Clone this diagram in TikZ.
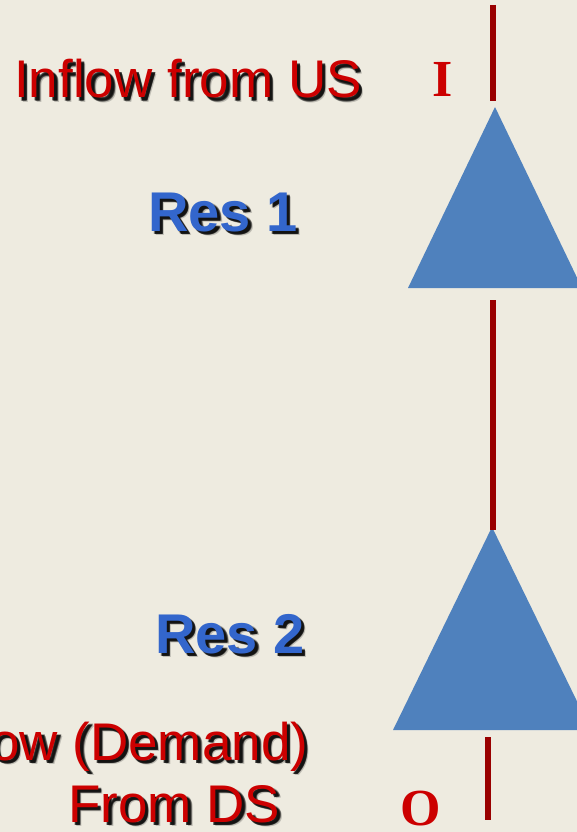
\documentclass[tikz,border=0pt]{standalone}
\usepackage{fontspec}
\setmainfont{Liberation Sans}
\newfontfamily\timesfam{Liberation Serif}
\definecolor{paper}{HTML}{EEEBE0}
\definecolor{resblue}{HTML}{4F81BD}
\definecolor{labelblue}{HTML}{3366CC}
\definecolor{flowred}{HTML}{CC0000}
\definecolor{pipered}{HTML}{990000}
\tikzset{
  big/.style={font=\fontsize{53}{60}\selectfont, inner sep=0pt},
  bigbold/.style={font=\fontsize{56}{62}\selectfont\bfseries, inner sep=0pt},
  letter/.style={font=\fontsize{52}{60}\selectfont\timesfam\bfseries, inner sep=0pt, text=flowred},
  reservoir/.style={fill=resblue, draw=none},
  pipe/.style={draw=pipered, line width=6.5pt},
}
% text with a soft black drop shadow
\newcommand\shadowlabel[5]{% name, style, colour, anchor-position, text
  \foreach \dx/\dy/\op in {4.5/4.5/0.2, 3.5/3.5/0.45, 3/3/0.6, 2.5/3.5/0.3, 3.5/2.5/0.3}
    \node[#2, text=black, opacity=\op, anchor=base west] at ($(#4)+(\dx,\dy)$) {#5};
  \node[#2, text=#3, anchor=base west] (#1) at (#4) {#5};
}
\usetikzlibrary{calc}
\begin{document}
\begin{tikzpicture}[x=1pt, y=-1pt]
  \fill[paper] (0,0) rectangle (577,832);
  \useasboundingbox (0,0) rectangle (577,832);
  \clip (0,0) rectangle (577,832);

  % reservoirs
  \coordinate (r1top) at (495,107);
  \coordinate (r1l) at (408,288);
  \coordinate (r1r) at (582,288);
  \coordinate (r2top) at (492,527);
  \coordinate (r2l) at (393,730);
  \coordinate (r2r) at (591,730);
  \fill[reservoir] (r1top) -- (r1l) -- (r1r) -- cycle;
  \fill[reservoir] (r2top) -- (r2l) -- (r2r) -- cycle;

  % river reaches
  \coordinate (inA) at (493,5);
  \coordinate (inB) at (493,101);
  \coordinate (midA) at (493,300);
  \coordinate (midB) at (493,530);
  \coordinate (outA) at (488,737);
  \coordinate (outB) at (488,820);
  \draw[pipe] (inA) -- (inB);
  \draw[pipe] (midA) -- (midB);
  \draw[pipe] (outA) -- (outB);

  % labels
  \coordinate (pinflow) at (14,98);
  \shadowlabel{inflow}{big}{flowred}{pinflow}{Inflow from US}
  \coordinate (pres1) at (148,231);
  \shadowlabel{res1}{bigbold}{labelblue}{pres1}{Res 1}
  \coordinate (pres2) at (155,653);
  \shadowlabel{res2}{bigbold}{labelblue}{pres2}{Res 2}
  \coordinate (pdemand) at (-122,760);
  \shadowlabel{demand}{big}{flowred}{pdemand}{Outflow (Demand)}
  \coordinate (pds) at (68,822);
  \shadowlabel{fromds}{big}{flowred}{pds}{From DS}

  \node[letter, anchor=base] (I) at (443,97) {I};
  \node[letter, anchor=base] (O) at (421,825) {O};
\end{tikzpicture}
\end{document}
